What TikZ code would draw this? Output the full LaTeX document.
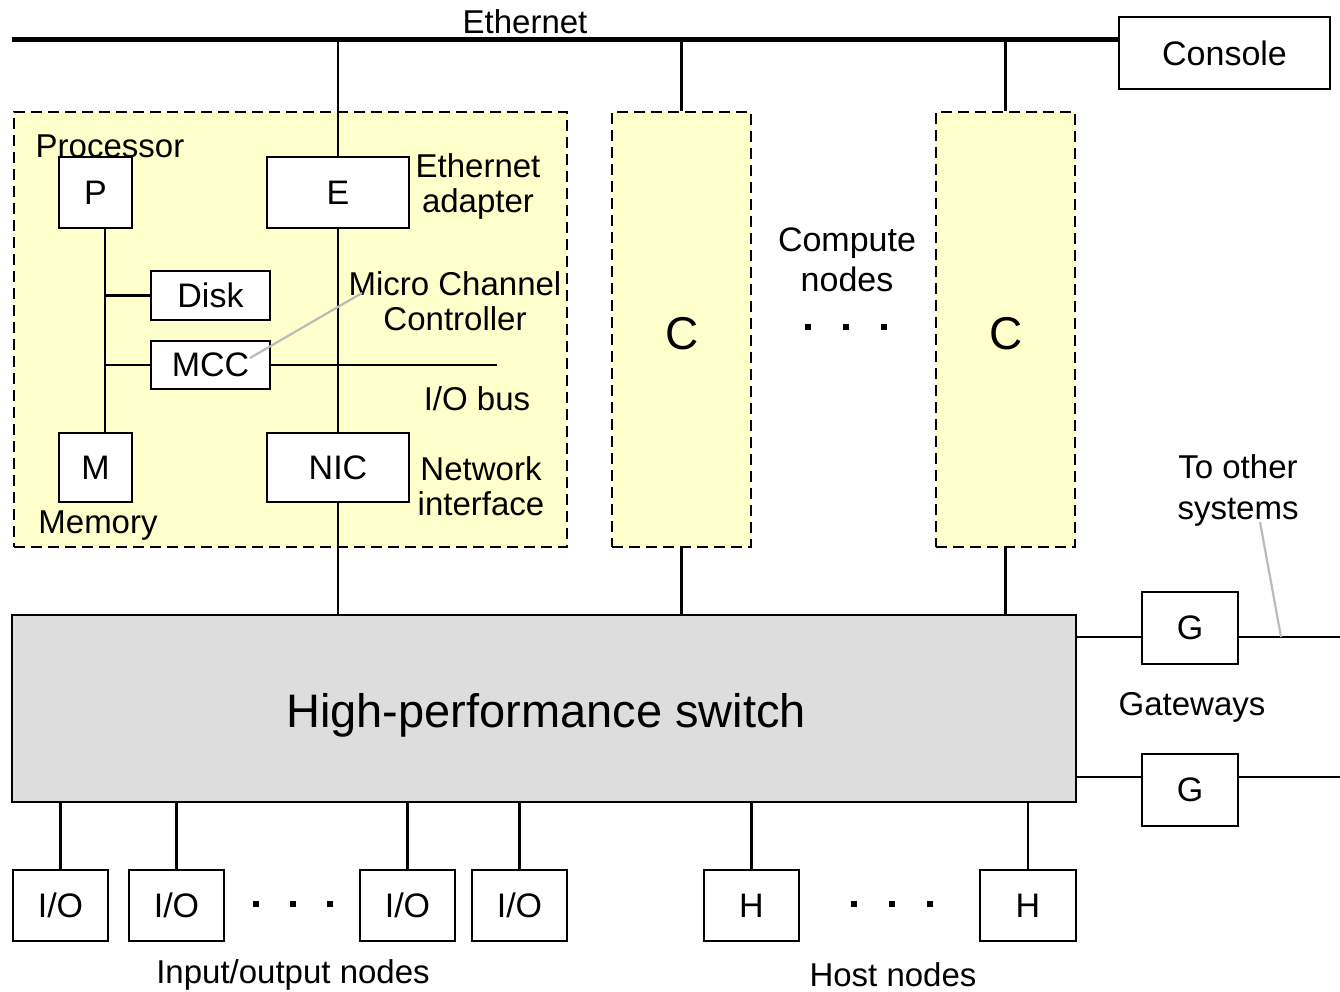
\documentclass[tikz,border=0pt]{standalone}
\usepackage{fontspec}
\setmainfont{Liberation Sans}
\definecolor{nodefill}{HTML}{FFFFCC}
\definecolor{switchfill}{HTML}{DDDDDD}
\definecolor{pointergray}{HTML}{BBBBBB}
\begin{document}
\begin{tikzpicture}[x=1pt,y=-1pt,
  box/.style={draw, line width=2.7pt, fill=white, inner sep=0pt, font=\fontsize{34}{38}\selectfont},
  lbl/.style={font=\fontsize{33}{35}\selectfont, align=center, inner sep=0pt},
  wire/.style={line width=2.2pt},
  thickwire/.style={line width=5pt},
  pointer/.style={draw=pointergray, line width=2.2pt},
  cnode/.style={draw, dash pattern=on 11pt off 6pt, line width=2.7pt, fill=nodefill},
  dot/.style={fill=black, minimum size=6pt, inner sep=0pt}]
\useasboundingbox (0,0) rectangle (1340,992);

% compute node frames
\node[cnode, minimum width=553, minimum height=435] (N1) at (290.5,329.5) {};
\node[cnode, minimum width=139, minimum height=435] (C1) at (681.5,329.5) {};
\node[cnode, minimum width=139, minimum height=435] (C2) at (1005.5,329.5) {};
\node[lbl, font=\fontsize{46}{50}\selectfont] (c1lbl) at (682,334) {C};
\node[lbl, font=\fontsize{46}{50}\selectfont] (c2lbl) at (1006,334) {C};

% switch
\node[draw, line width=2.7pt, fill=switchfill, minimum width=1064, minimum height=187] (SW) at (544,708.5) {};
\node[lbl, font=\fontsize{47}{50}\selectfont] (swlbl) at (546,715) {High-performance switch};

% console & ethernet
\node[box, minimum width=211, minimum height=72] (CON) at (1224.5,53) {Console};
\coordinate (eL) at (12,40);
\draw[thickwire] (eL) -- (eL -| CON.west);
\node[lbl] (ethlbl) at (525,22) {Ethernet};

% inside node 1
\node[box, minimum width=73, minimum height=71] (P) at (95.5,192.5) {P};
\node[box, minimum width=142, minimum height=71] (E) at (338,192.5) {E};
\node[box, minimum width=119, minimum height=49] (D) at (210.5,295.5) {Disk};
\node[box, minimum width=119, minimum height=48] (MCC) at (210.5,365) {MCC};
\node[box, minimum width=73, minimum height=69] (M) at (95.5,467.5) {M};
\node[box, minimum width=142, minimum height=69] (NIC) at (338,467.5) {NIC};

\coordinate (bus) at (105,0);
\draw[wire] (P.south -| bus) -- (M.north -| bus);
\draw[wire] (D.west -| bus) -- (D.west);
\draw[wire] (MCC.west -| bus) -- (MCC.west);
\coordinate (ioend) at (497,365);
\draw[wire] (MCC.east) -- (ioend);
\draw[wire] (E.north) -- (E.north |- eL);
\draw[wire] (E.south) -- (NIC.north);
\draw[wire] (NIC.south) -- (NIC.south |- SW.north);

\node[lbl] (proc) at (110,146) {Processor};
\node[lbl] (mem) at (98,526) {Memory};
\node[lbl] (ethad) at (478,186) {Ethernet\\adapter};
\node[lbl] (mcclbl) at (455,301) {Micro Channel\\Controller};
\node[lbl] (iobus) at (477,399) {I/O bus};
\node[lbl] (netif) at (481,486) {Network\\interface};
\coordinate (mccptr) at (250,358);
\draw[pointer] (mccptr) -- (362,293);

% compute node connections
\draw[wire] (C1.north) -- (C1.north |- eL);
\draw[wire] (C2.north) -- (C2.north |- eL);
\draw[wire] (C1.south) -- (C1.south |- SW.north);
\draw[wire] (C2.south) -- (C2.south |- SW.north);
\node[lbl, font=\fontsize{34}{40}\selectfont] (cnlbl) at (847,260) {Compute\\nodes};
\node[dot] (cd1) at (808,327) {};
\node[dot] (cd2) at (846,327) {};
\node[dot] (cd3) at (884,327) {};

% gateways
\node[box, minimum width=96, minimum height=72] (G1) at (1190,628) {G};
\node[box, minimum width=96, minimum height=72] (G2) at (1190,790) {G};
\coordinate (t1) at (1340,637);
\coordinate (t2) at (1340,777);
\draw[wire] (t1 -| SW.east) -- (t1 -| G1.west);
\draw[wire] (t1 -| G1.east) -- (t1);
\draw[wire] (t2 -| SW.east) -- (t2 -| G2.west);
\draw[wire] (t2 -| G2.east) -- (t2);
\node[lbl] (gwlbl) at (1192,707) {Gateways};
\node[lbl, font=\fontsize{33}{41}\selectfont] (tos) at (1238,490) {To other\\systems};
\coordinate (tosptr) at (1260,522);
\draw[pointer] (tosptr) -- (1281,637);

% I/O and host nodes
\node[box, minimum width=95, minimum height=71] (IO1) at (60.5,905.5) {I/O};
\node[box, minimum width=95, minimum height=71] (IO2) at (176.5,905.5) {I/O};
\node[box, minimum width=95, minimum height=71] (IO3) at (407.5,905.5) {I/O};
\node[box, minimum width=95, minimum height=71] (IO4) at (519.5,905.5) {I/O};
\node[box, minimum width=95, minimum height=71] (H1) at (751.5,905.5) {H};
\node[box, minimum width=96, minimum height=71] (H2) at (1028,905.5) {H};
\foreach \n in {IO1,IO2,IO3,IO4,H1,H2} {
  \draw[wire] (\n.north) -- (\n.north |- SW.south);
}
\node[dot] (id1) at (256,904) {};
\node[dot] (id2) at (293,904) {};
\node[dot] (id3) at (330,904) {};
\node[dot] (hd1) at (854,904) {};
\node[dot] (hd2) at (892,904) {};
\node[dot] (hd3) at (930,904) {};
\node[lbl] (iolbl) at (293,975) {Input/output nodes};
\node[lbl] (hlbl) at (893,975) {Host nodes};
\end{tikzpicture}
\end{document}
